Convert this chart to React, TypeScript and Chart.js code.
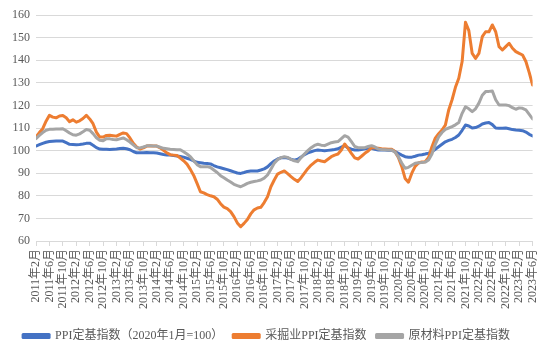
import React, { useEffect, useRef } from "react";
import { Chart, registerables } from "chart.js";

Chart.register(...registerables);

const tickLabels = [
  "2011年2月", "2011年6月", "2011年10月", "2012年2月", "2012年6月", "2012年10月",
  "2013年2月", "2013年6月", "2013年10月", "2014年2月", "2014年6月", "2014年10月",
  "2015年2月", "2015年6月", "2015年10月", "2016年2月", "2016年6月", "2016年10月",
  "2017年2月", "2017年6月", "2017年10月", "2018年2月", "2018年6月", "2018年10月",
  "2019年2月", "2019年6月", "2019年10月", "2020年2月", "2020年6月", "2020年10月",
  "2021年2月", "2021年6月", "2021年10月", "2022年2月", "2022年6月", "2022年10月",
  "2023年2月", "2023年6月",
];

const ppi = [
  102.0, 102.6, 103.2, 103.7, 104.0, 104.1, 104.2, 104.2, 104.2, 103.5,
  102.8, 102.7, 102.6, 102.7, 102.9, 103.2, 103.3, 102.4, 101.3, 100.7,
  100.6, 100.6, 100.5, 100.6, 100.7, 100.9, 101.0, 100.8, 100.4, 99.6,
  99.0, 99.0, 99.1, 99.2, 99.1, 99.0, 98.9, 98.6, 98.3, 98.1,
  98.0, 97.8, 97.6, 97.4, 97.1, 96.6, 96.1, 95.4, 94.8, 94.6,
  94.4, 94.3, 94.1, 93.4, 92.8, 92.4, 92.0, 91.6, 91.1, 90.6,
  90.1, 89.9, 90.3, 90.8, 91.0, 91.0, 91.0, 91.4, 91.9, 92.8,
  94.2, 95.4, 96.3, 96.8, 96.9, 96.7, 96.2, 95.8, 96.2, 97.1,
  98.2, 99.0, 99.5, 100.0, 100.3, 100.1, 99.9, 100.1, 100.3, 100.5,
  100.8, 101.5, 102.2, 101.2, 100.6, 100.3, 100.3, 100.5, 100.8, 101.0,
  101.0, 100.6, 100.3, 100.3, 100.3, 100.2, 100.2, 99.6, 98.8, 98.0,
  97.3, 97.1, 97.1, 97.5, 98.0, 98.2, 98.5, 98.9, 99.5, 100.6,
  101.7, 102.8, 103.9, 104.5, 105.0, 105.8, 106.9, 109.0, 111.3, 110.9,
  110.0, 110.2, 110.8, 111.8, 112.2, 112.4, 111.5, 110.0, 109.9, 109.9,
  110.0, 109.7, 109.3, 109.1, 109.0, 108.8, 108.2, 107.2, 106.5,
];

const mining = [
  106.0, 108.0, 109.7, 113.0, 115.6, 114.8, 114.5, 115.3, 115.5, 114.5,
  112.8, 113.6, 112.6, 113.2, 114.2, 115.6, 114.0, 111.9, 108.2, 106.0,
  106.0, 106.7, 106.8, 106.6, 106.4, 107.2, 107.8, 107.5, 105.6, 103.2,
  101.6, 100.7, 101.2, 102.0, 102.1, 102.0, 102.0, 101.2, 100.1, 99.0,
  98.2, 98.0, 97.8, 96.7, 95.5, 94.0, 91.7, 89.0, 85.5, 81.8,
  81.3, 80.5, 80.0, 79.6, 78.5, 76.5, 75.0, 74.3, 73.0, 70.8,
  68.0, 66.3, 67.8, 69.5, 72.0, 73.8, 74.6, 74.9, 77.0, 79.6,
  84.0, 87.0, 89.6, 90.4, 91.0, 89.8, 88.5, 87.3, 86.3, 88.0,
  90.0, 92.0, 93.6, 94.8, 95.8, 95.4, 95.1, 96.2, 97.3, 98.0,
  98.5, 100.3, 102.9, 101.0, 98.8, 96.8, 96.3, 97.5, 98.8, 99.8,
  101.4, 101.2, 101.0, 100.8, 100.7, 100.6, 100.6, 99.5, 97.0, 93.0,
  87.7, 86.0, 90.0, 93.0, 94.5, 95.0, 95.1, 97.0, 101.7, 105.5,
  107.5, 109.1, 111.3, 118.0, 122.5, 128.0, 132.0, 139.4, 156.8, 153.1,
  143.0, 140.8, 143.0, 150.4, 152.6, 152.6, 155.6, 152.6, 146.0, 144.5,
  146.0, 147.5, 145.3, 143.8, 143.0, 142.3, 139.4, 134.5, 129.0,
];

const rawMaterial = [
  105.3, 106.7, 108.0, 109.0, 109.4, 109.5, 109.6, 109.6, 109.7, 108.8,
  107.8, 107.0, 106.8, 107.4, 108.3, 109.3, 109.0, 107.5, 105.7, 104.6,
  104.4, 105.3, 105.2, 104.9, 104.8, 105.2, 105.6, 104.8, 103.8, 102.5,
  101.3, 101.2, 101.6, 102.1, 102.1, 102.0, 102.0, 101.5, 101.0, 100.8,
  100.6, 100.5, 100.4, 100.4, 99.5, 98.5, 97.3, 95.5, 93.8, 92.9,
  92.9, 92.9, 92.5, 91.4, 90.3, 88.9, 88.0, 87.0, 86.1, 85.1,
  84.5, 84.0, 84.7, 85.5, 86.0, 86.3, 86.6, 87.0, 87.8, 89.2,
  91.8, 94.4, 96.0, 96.9, 97.3, 97.0, 96.1, 95.5, 95.1, 96.9,
  98.5, 100.0, 101.3, 102.3, 102.8, 102.4, 102.2, 102.9, 103.5, 103.8,
  104.0, 105.3, 106.6, 106.0, 104.0, 101.8, 101.3, 101.3, 101.3, 101.8,
  102.2, 101.6, 100.7, 100.5, 100.4, 100.3, 100.3, 99.3, 97.3, 94.5,
  92.2, 92.6, 93.5, 94.4, 94.6, 94.7, 94.9, 95.8, 98.5, 102.8,
  106.1, 108.0, 109.4, 110.0, 110.6, 111.4, 112.4, 116.5, 119.4, 118.5,
  117.2, 118.5, 121.0, 124.5, 126.1, 126.2, 126.4, 122.5, 120.2, 120.2,
  120.2, 119.9, 119.0, 118.3, 118.9, 118.7, 118.0, 116.0, 114.0,
];

const seriesNames = ["PPI定基指数（2020年1月=100）", "采掘业PPI定基指数", "原材料PPI定基指数"];
const seriesColors = ["#4472C4", "#ED7D31", "#A5A5A5"];

const SERIF = "'Liberation Serif', 'Times New Roman', 'Noto Sans CJK SC', serif";

export default function App() {
  const ref = useRef<HTMLCanvasElement | null>(null);

  useEffect(() => {
    if (!ref.current) return;
    const toPoints = (arr: number[]) => arr.map((y, i) => ({ x: i, y }));
    const allSeries = [ppi, mining, rawMaterial];
    const chart = new Chart(ref.current, {
      type: "line",
      data: {
        datasets: allSeries.map((s, k) => ({
          label: seriesNames[k],
          data: toPoints(s),
          borderColor: seriesColors[k],
          backgroundColor: seriesColors[k],
          borderWidth: 3,
          pointRadius: 0,
          tension: 0,
          borderJoinStyle: "round" as const,
          borderCapStyle: "round" as const,
          order: 2 - k,
        })),
      },
      options: {
        animation: false,
        responsive: false,
        devicePixelRatio: 1,
        layout: { padding: { left: 0, right: 17, top: 15, bottom: 0 } },
        scales: {
          x: {
            type: "linear",
            min: 0,
            max: tickLabels.length * 4 - 4,
            afterFit: (s: any) => {
              s.height = 79;
            },
            ticks: {
              stepSize: 4,
              autoSkip: false,
              maxRotation: 90,
              minRotation: 90,
              padding: 3,
              color: "#595959",
              font: { family: SERIF, size: 12 },
              callback: (v: any) => tickLabels[Math.round(Number(v) / 4)] ?? "",
            },
            grid: {
              drawOnChartArea: false,
              drawTicks: true,
              tickLength: 5,
              color: "#d9d9d9",
            },
            border: { color: "#d9d9d9" },
          },
          y: {
            min: 60,
            max: 160,
            afterFit: (s: any) => {
              s.width = 36;
            },
            ticks: {
              stepSize: 10,
              padding: 6,
              color: "#595959",
              font: { family: SERIF, size: 12 },
            },
            grid: { color: "#d9d9d9", drawTicks: false },
            border: { display: false },
          },
        },
        plugins: {
          tooltip: { enabled: false },
          legend: {
            position: "bottom",
            labels: {
              boxWidth: 26,
              boxHeight: 3,
              padding: 10,
              color: "#595959",
              font: { family: SERIF, size: 12 },
              sort: (a: any, b: any) => a.datasetIndex - b.datasetIndex,
            },
          },
        },
      },
    });
    return () => chart.destroy();
  }, []);

  return (
    <div style={{ position: "absolute", left: 0, top: 0, width: 550, height: 352, background: "#fff" }}>
      <canvas ref={ref} width={550} height={352} />
    </div>
  );
}
